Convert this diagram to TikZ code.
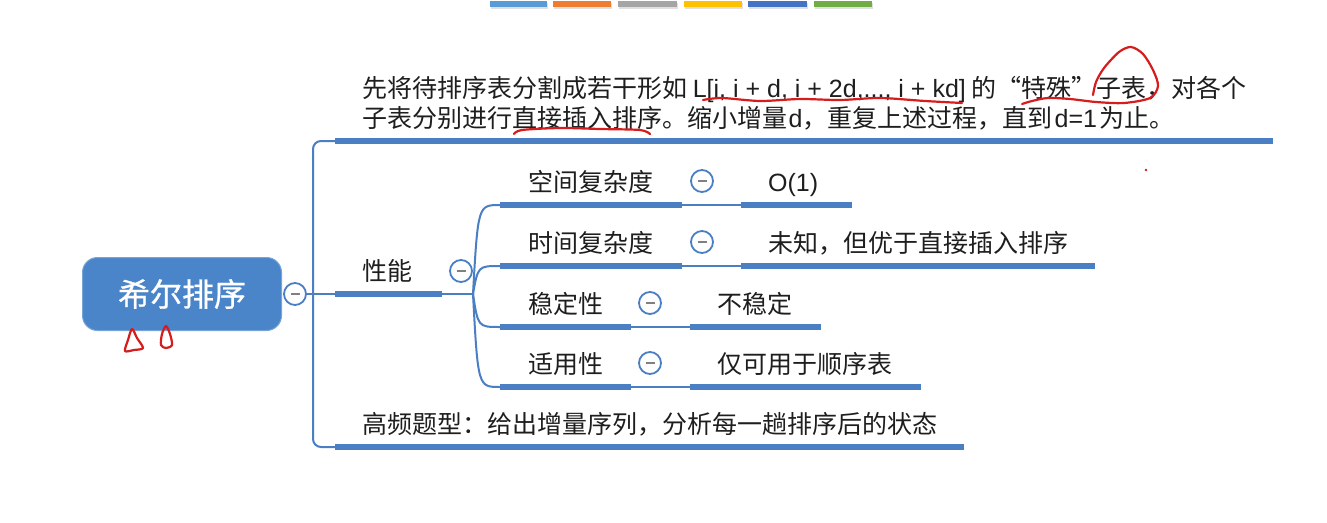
\documentclass[tikz,border=0pt]{standalone}
\usepackage{fontspec}
\setmainfont{Noto Sans CJK SC}
\newfontfamily\lat{Liberation Sans}
\newfontfamily\rootfont[FakeBold=0.8]{Noto Sans CJK SC}
\usetikzlibrary{positioning}
\definecolor{mapblue}{HTML}{4A7FC3}
\definecolor{rootblue}{HTML}{4B85C9}
\definecolor{inkred}{HTML}{D61C1C}
\definecolor{txtgray}{HTML}{1E1E1E}
\definecolor{barA}{HTML}{5B9BD5}
\definecolor{barB}{HTML}{ED7D31}
\definecolor{barC}{HTML}{A5A5A5}
\definecolor{barD}{HTML}{FFC000}
\definecolor{barE}{HTML}{4472C4}
\definecolor{barF}{HTML}{70AD47}

\begin{document}
\begin{tikzpicture}[x=1pt, y=-1pt,
  rootbox/.style={rectangle, rounded corners=15pt, fill=rootblue, draw=rootblue!75!white,
                  line width=1pt, minimum width=199pt, minimum height=73pt,
                  text=white, font=\rootfont\fontsize{32}{36}\selectfont},
  txt/.style={anchor=base west, inner sep=0pt, text=txtgray,
              font=\fontsize{25}{30}\selectfont},
  ulbar/.style={line width=6pt, mapblue},
  link/.style={line width=2pt, mapblue},
  fold/.style={circle, draw=mapblue, line width=1.8pt, fill=white,
               minimum size=22pt, inner sep=0pt,
               path picture={\draw[gray, line width=1.6pt]
                 ([xshift=-4.5pt]path picture bounding box.center) --
                 ([xshift=4.5pt]path picture bounding box.center);}},
  ink/.style={inkred, line width=2.2pt, line cap=round, line join=round},
]
  \fill[white] (0,0) rectangle (1327,522);
  \useasboundingbox (0,0) rectangle (1327,522);

  % Colour strip on top
  \foreach \xa/\xb/\col in {490/547/barA, 553/611/barB, 618/677/barC,
                            684/742/barD, 748/807/barE, 814/872/barF} {
    \fill[black!12] (\xa+1,3) rectangle (\xb+1,9);
    \fill[\col] (\xa,1) rectangle (\xb,7);
  }

  % Root
  \node[rootbox] (shell) at (182,294) {希尔排序};
  \node[fold] (shell-fold) at (295,294) {};

  % First level
  \coordinate (def-l) at (335,141);
  \coordinate (def-r) at (1273,141);
  \coordinate (perf-l) at (335,294);
  \coordinate (perf-r) at (442,294);
  \coordinate (hot-l) at (335,447);
  \coordinate (hot-r) at (964,447);
  \coordinate (fork) at (473,294);

  \node[txt] (def1) at (362,97) {先将待排序表分割成若干形如 {\lat L[i, i + d, i + 2d,..., i + kd]} 的“特殊”子表，对各个};
  \node[txt] (def2) at (362,127) {子表分别进行直接插入排序。缩小增量\hspace{1.5pt}{\lat d}，重复上述过程，直到\hspace{2pt}{\lat d=1}\hspace{2pt}为止。};
  \node[txt] (perf) at (362,280) {性能};
  \node[fold] (perf-fold) at (461,271) {};
  \node[txt] (hot) at (362,433) {高频题型：给出增量序列，分析每一趟排序后的状态};

  \draw[link, rounded corners=8pt] (def-l) -| (313,447) -- (hot-l);
  \draw[link] (shell-fold) -- (perf-l);
  \draw[link] (perf-r) -- (fork);
  \draw[ulbar] (def-l) -- (def-r);
  \draw[ulbar] (perf-l) -- (perf-r);
  \draw[ulbar] (hot-l) -- (hot-r);

  % Second level
  \coordinate (space-l) at (500,205);  \coordinate (space-r) at (682,205);
  \coordinate (time-l) at (500,266);   \coordinate (time-r) at (682,266);
  \coordinate (stable-l) at (500,327); \coordinate (stable-r) at (631,327);
  \coordinate (use-l) at (500,387);    \coordinate (use-r) at (631,387);

  \node[txt] (space) at (528,191) {空间复杂度};
  \node[txt] (time) at (528,252) {时间复杂度};
  \node[txt] (stable) at (528,313) {稳定性};
  \node[txt] (use) at (528,373) {适用性};
  \node[fold] (space-fold) at (702,181) {};
  \node[fold] (time-fold) at (702,242) {};
  \node[fold] (stable-fold) at (650,303) {};
  \node[fold] (use-fold) at (650,363) {};

  \draw[link] (fork) .. controls (478,205) .. (space-l);
  \draw[link] (fork) .. controls (478,266) .. (time-l);
  \draw[link] (fork) .. controls (478,327) .. (stable-l);
  \draw[link] (fork) .. controls (478,387) .. (use-l);
  \draw[ulbar] (space-l) -- (space-r);
  \draw[ulbar] (time-l) -- (time-r);
  \draw[ulbar] (stable-l) -- (stable-r);
  \draw[ulbar] (use-l) -- (use-r);

  % Third level
  \coordinate (space-val-l) at (741,205);  \coordinate (space-val-r) at (852,205);
  \coordinate (time-val-l) at (741,266);   \coordinate (time-val-r) at (1095,266);
  \coordinate (stable-val-l) at (690,327); \coordinate (stable-val-r) at (821,327);
  \coordinate (use-val-l) at (690,387);    \coordinate (use-val-r) at (921,387);

  \node[txt] (space-val) at (768,191) {\lat O(1)};
  \node[txt] (time-val) at (768,252) {未知，但优于直接插入排序};
  \node[txt] (stable-val) at (717,313) {不稳定};
  \node[txt] (use-val) at (717,373) {仅可用于顺序表};

  \draw[link] (space-r) -- (space-val-l);
  \draw[link] (time-r) -- (time-val-l);
  \draw[link] (stable-r) -- (stable-val-l);
  \draw[link] (use-r) -- (use-val-l);
  \draw[ulbar] (space-val-l) -- (space-val-r);
  \draw[ulbar] (time-val-l) -- (time-val-r);
  \draw[ulbar] (stable-val-l) -- (stable-val-r);
  \draw[ulbar] (use-val-l) -- (use-val-r);

  % Red pen marks
  \draw[ink] plot[smooth] coordinates {(703,100) (722,98) (760,101) (800,99)
    (840,100) (880,98) (925,101) (962,103)};
  \draw[ink] plot[smooth] coordinates {(1022,104) (1032,101) (1048,98) (1070,99)
    (1096,102) (1124,103) (1150,98) (1158,86) (1153,70) (1143,54) (1131,47)
    (1119,52) (1104,68) (1096,82) (1093,95)};
  \draw[ink] plot[smooth] coordinates {(514,134) (522,130) (560,128) (600,129)
    (640,130) (650,134)};
  \draw[ink] plot[smooth cycle] coordinates {(125,351) (128,340) (132,329)
    (137,338) (143,348) (134,350)};
  \draw[ink] plot[smooth cycle] coordinates {(161,345) (162,334) (166,326)
    (170,334) (172,345) (166,348)};
  \fill[inkred] (1146,170) circle (1.3);
\end{tikzpicture}
\end{document}
